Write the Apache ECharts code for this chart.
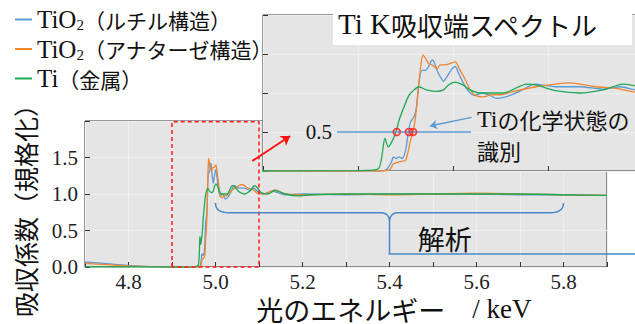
<!DOCTYPE html>
<html><head><meta charset="utf-8">
<script src="https://cdn.jsdelivr.net/npm/echarts@6/dist/echarts.min.js"></script>
<style>html,body{margin:0;padding:0;background:#fff}#c{width:635px;height:324px}</style>
</head><body><div id="c"></div>
<script>
// ---- data ----
const seriesNames = ['TiO2(ルチル構造)', 'TiO2(アナターゼ構造)', 'Ti(金属)'];
const legendLabels = ['{en|TiO}{sub|2}{jp|（ルチル構造）}', '{en|TiO}{sub|2}{jp|（アナターゼ構造）}', '{en|Ti}{jp|（金属）}'];
const colors = ['#5b9bd5', '#f0862e', '#1fa855'];
const rutile = [[4.70,0.07],[4.75,0.045],[4.80,0.022],[4.85,0.006],[4.90,0.0],[4.95,0.0],[4.961,0.0],[4.965,0.02],[4.9677,0.12],[4.9686,0.18],[4.970,0.16],[4.9716,0.18],[4.9733,0.16],[4.9751,0.27],[4.9765,0.50],[4.9777,0.63],[4.9795,0.70],[4.9808,0.82],[4.982,1.12],[4.9837,1.29],[4.9855,1.29],[4.9872,1.34],[4.989,1.42],[4.9898,1.41],[4.9916,1.29],[4.9933,1.21],[4.995,1.15],[4.9968,1.21],[4.9995,1.31],[5.0012,1.34],[5.003,1.25],[5.0056,1.12],[5.0082,1.02],[5.0109,0.97],[5.0158,1.0],[5.0194,0.97],[5.023,0.93],[5.029,0.96],[5.035,1.02],[5.043,1.115],[5.054,1.08],[5.0668,1.08],[5.079,1.05],[5.088,1.08],[5.096,1.04],[5.11,1.0],[5.13,1.04],[5.16,0.99],[5.2,1.0],[5.3,0.99],[5.4,1.0],[5.5,1.0],[5.6,1.0],[5.7,0.99],[5.8,0.99],[5.9,0.98]];
const anatase = [[4.70,0.05],[4.75,0.032],[4.80,0.015],[4.85,0.004],[4.90,0.0],[4.95,0.0],[4.963,0.0],[4.9668,0.02],[4.9686,0.09],[4.972,0.12],[4.9751,0.14],[4.9777,0.40],[4.979,0.50],[4.9803,0.70],[4.9817,1.04],[4.983,1.34],[4.9842,1.49],[4.9856,1.44],[4.9872,1.38],[4.989,1.36],[4.9916,1.31],[4.9933,1.36],[4.996,1.36],[4.9986,1.38],[5.0012,1.40],[5.0038,1.29],[5.0065,1.17],[5.009,1.04],[5.0117,0.97],[5.0158,0.95],[5.020,0.975],[5.026,0.98],[5.032,1.02],[5.044,1.08],[5.061,1.13],[5.075,1.08],[5.086,1.06],[5.096,1.01],[5.11,1.0],[5.137,1.055],[5.16,1.0],[5.2,0.99],[5.3,1.0],[5.4,0.99],[5.5,1.0],[5.6,1.01],[5.7,1.0],[5.8,0.99],[5.9,0.98]];
const titanium = [[4.70,0.0],[4.80,0.0],[4.90,0.0],[4.95,0.005],[4.9607,0.03],[4.9642,0.42],[4.9658,0.31],[4.9675,0.36],[4.970,0.50],[4.9716,0.65],[4.9742,0.82],[4.9768,0.97],[4.9795,1.04],[4.982,1.08],[4.9861,1.04],[4.9914,1.02],[4.995,1.04],[4.9975,1.10],[5.001,1.14],[5.0054,1.10],[5.009,1.04],[5.0142,1.0],[5.0194,1.0],[5.0265,1.0],[5.0388,1.115],[5.044,1.10],[5.054,1.03],[5.0668,1.0],[5.0791,1.04],[5.0896,1.115],[5.096,1.09],[5.105,1.02],[5.12,1.0],[5.137,1.05],[5.16,1.0],[5.19,0.975],[5.22,0.99],[5.3,1.0],[5.4,1.0],[5.5,1.0],[5.6,1.0],[5.7,1.0],[5.8,0.99],[5.9,0.98]];
const mainX = [4.7, 5.9, 0.1];
const mainY = [0, 2, 0.5];
const insetX = [4.9, 5.1, 0.05];
const insetY = [0, 2, 0.5];
const xName = '{jp|光のエネルギー　}{en|/ keV}';
const yName = '吸収係数（規格化）';
const zoomBox = [[4.9,0],[4.9,1.99],[5.1,1.99],[5.1,0],[4.9,0]];
const zoomArrow = [[5.0844,1.452],[5.1717,1.795]];
const halfLine = [[4.939,0.5],[5.0095,0.5]];
const halfCross = [[4.9704,0.5],[4.9768,0.5],[4.979,0.5]];
const noteArrow = [[5.0098,0.688],[4.9879,0.577]];
const brace = {left:5.0, right:5.8, tip:5.4, endV:0.877, barV:0.744, tipV:0.616, leadV:0.178};

const sansJP = 'Noto Sans CJK JP';
const serif = 'Liberation Serif';
const chart = echarts.init(document.getElementById('c'), null, {renderer:'svg'});

function mkSeries(g, z) {
  return [rutile, anatase, titanium].map((d, i) => ({
    name: seriesNames[i], type:'line', data:d, xAxisIndex:g, yAxisIndex:g,
    showSymbol:false, smooth:0.25, z:z, clip:true,
    lineStyle:{width:1.3, color:colors[i]}, itemStyle:{color:colors[i]}
  }));
}
const numStyle = {fontFamily:serif, fontSize:21, color:'#222', fontWeight:'normal'};
const gridLine = {show:true, lineStyle:{color:'#efefef', width:1}};
const tick = {show:true, inside:true, length:5, lineStyle:{color:'#333'}};

chart.setOption({
  animation:false,
  title:{text:'{en|Ti K}{jp|吸収端スペクトル}', left:333, top:3, padding:[6,28,6,5], z:30,
    textStyle:{fontWeight:'normal', rich:{en:{fontFamily:serif, fontSize:29, lineHeight:30, color:'#111', fontWeight:'normal'}, jp:{fontFamily:sansJP, fontSize:26, lineHeight:30, color:'#111', fontWeight:'normal'}}}},
  legend:{orient:'vertical', left:10, top:2, itemWidth:17, itemHeight:2, itemGap:4, icon:'rect', data:seriesNames, z:30,
    formatter:n => legendLabels[seriesNames.indexOf(n)],
    textStyle:{rich:{en:{fontFamily:serif, fontSize:25, lineHeight:26, color:'#111'},
      sub:{fontFamily:serif, fontSize:15, lineHeight:2, verticalAlign:'bottom', color:'#111'},
      jp:{fontFamily:sansJP, fontSize:21, lineHeight:26, color:'#111'}}}},
  grid:[
    {left:85, top:121, width:522, height:146, containLabel:false, outerBoundsMode:'none', show:true, backgroundColor:'#e5e5e5', borderColor:'#333', borderWidth:1, z:0},
    {left:263, top:15, width:380, height:156, containLabel:false, outerBoundsMode:'none', show:true, backgroundColor:'#e5e5e5', borderColor:'#333', borderWidth:1, z:10}
  ],
  xAxis:[
    {type:'value', gridIndex:0, min:mainX[0], max:mainX[1], interval:mainX[2], axisLine:{show:false}, axisTick:tick, splitLine:gridLine,
      axisLabel:Object.assign({margin:7, lineHeight:16, formatter:v => (Math.round(v*10)%2===0 ? v.toFixed(1) : '')}, numStyle)},
    {type:'value', gridIndex:1, min:insetX[0], max:insetX[1], interval:insetX[2], z:11, axisLine:{show:false}, axisTick:tick, splitLine:gridLine, axisLabel:{show:false}}
  ],
  yAxis:[
    {type:'value', gridIndex:0, min:mainY[0], max:mainY[1], interval:mainY[2], axisLine:{show:false}, axisTick:tick, splitLine:gridLine,
      axisLabel:Object.assign({margin:7, formatter:v => (v >= 2 ? '' : v.toFixed(1))}, numStyle)},
    {type:'value', gridIndex:1, min:insetY[0], max:insetY[1], interval:insetY[2], z:11, axisLine:{show:false}, axisTick:tick, splitLine:gridLine, axisLabel:{show:false}}
  ],
  series:[
    ...mkSeries(0, 2),
    {type:'line', data:zoomBox, xAxisIndex:0, yAxisIndex:0, showSymbol:false, z:3, clip:false,
      lineStyle:{color:'#ff1a1a', width:1.5, type:[4,3]}},
    ...mkSeries(1, 12),
    {type:'line', data:halfLine, xAxisIndex:1, yAxisIndex:1, showSymbol:false, z:13, lineStyle:{color:'#5b9bd5', width:1.5}},
    {type:'scatter', data:halfCross, xAxisIndex:1, yAxisIndex:1, symbol:'circle', symbolSize:7, z:14,
      itemStyle:{color:'rgba(0,0,0,0)', borderColor:'#ff1010', borderWidth:1.6}},
    {type:'lines', coordinateSystem:'cartesian2d', xAxisIndex:1, yAxisIndex:1, z:15, symbol:['none','arrow'], symbolSize:7,
      data:[{coords:noteArrow}], lineStyle:{color:'#5b9bd5', width:1.3, opacity:1}},
    {type:'lines', coordinateSystem:'cartesian2d', xAxisIndex:0, yAxisIndex:0, z:25, symbol:['none','arrow'], symbolSize:9,
      data:[{coords:zoomArrow}], lineStyle:{color:'#ff1010', width:2, opacity:1}}
  ]
});

// ---- annotations (anchored to data coordinates) ----
const P = (g, pt) => chart.convertToPixel({gridIndex:g}, pt);
function quad(p0, c, p1, n) {
  const out = [];
  for (let i = 0; i <= n; i++) {
    const t = i / n, a = (1-t)*(1-t), b = 2*(1-t)*t, d = t*t;
    out.push([a*p0[0]+b*c[0]+d*p1[0], a*p0[1]+b*c[1]+d*p1[1]]);
  }
  return out;
}
const bA = P(0,[brace.left, brace.endV]), bAc = P(0,[brace.left, brace.barV]), bB = P(0,[brace.left+0.03, brace.barV]);
const bC = P(0,[brace.tip-0.022, brace.barV]), bTc = P(0,[brace.tip, brace.barV]), bT = P(0,[brace.tip, brace.tipV]);
const bD = P(0,[brace.tip+0.022, brace.barV]);
const bE = P(0,[brace.right-0.03, brace.barV]), bFc = P(0,[brace.right, brace.barV]), bF = P(0,[brace.right, brace.endV]);
const bracePts = [].concat(quad(bA,bAc,bB,10), quad(bC,bTc,bT,10), quad(bT,bTc,bD,10), quad(bE,bFc,bF,10));
const lead = P(0,[brace.tip, brace.leadV]);
const halfStart = P(1, halfLine[0]);
const noteAt = P(1, [5.0126, 0.667]);
const anaAt = P(0, [5.527, 0.397]);
const x0 = P(0, [mainX[0], mainY[0]]);
const xNameAt = [P(0, [5.41, 0])[0], x0[1] + 42];
const yNameAt = [x0[0] - 60, P(0, [mainX[0], 0.856])[1]];

chart.setOption({graphic:[
  {type:'rect', z:29, shape:{x:333, y:3, width:299, height:42}, style:{fill:'#fff'}},
  {type:'text', z:40, x:xNameAt[0], y:xNameAt[1], style:{text:xName, textAlign:'center', textVerticalAlign:'middle',
    rich:{jp:{fontFamily:sansJP, fontSize:27, lineHeight:26, fill:'#111', color:'#111'}, en:{fontFamily:serif, fontSize:27, lineHeight:26, fill:'#111', color:'#111'}}}},
  {type:'text', z:40, x:yNameAt[0], y:yNameAt[1], rotation:Math.PI/2, style:{text:yName, fontFamily:sansJP, fontSize:25, fill:'#111', textAlign:'center', textVerticalAlign:'middle'}},
  {type:'polyline', z:40, shape:{points:bracePts}, style:{stroke:'#4a86c8', lineWidth:1.5, fill:null}},
  {type:'polyline', z:40, shape:{points:[bT, lead, [640, lead[1]]]}, style:{stroke:'#4a86c8', lineWidth:1.5, fill:null}},
  {type:'text', z:40, x:anaAt[0], y:anaAt[1], style:{text:'解析', fontFamily:sansJP, fontSize:27, fill:'#111', textAlign:'center', textVerticalAlign:'middle'}},
  {type:'text', z:40, x:halfStart[0]-5, y:halfStart[1], style:{text:'0.5', fontFamily:serif, fontSize:21, fill:'#111', textAlign:'right', textVerticalAlign:'middle'}},
  {type:'text', z:40, x:noteAt[0], y:noteAt[1]-15.5, style:{text:'{en|Ti}{jp|の化学状態の}\n{jp|識別}', textAlign:'left', textVerticalAlign:'top',
    rich:{en:{fontFamily:serif, fontSize:24, lineHeight:31, fill:'#111', color:'#111'}, jp:{fontFamily:sansJP, fontSize:22, lineHeight:31, fill:'#111', color:'#111'}}}}
]});
</script></body></html>
